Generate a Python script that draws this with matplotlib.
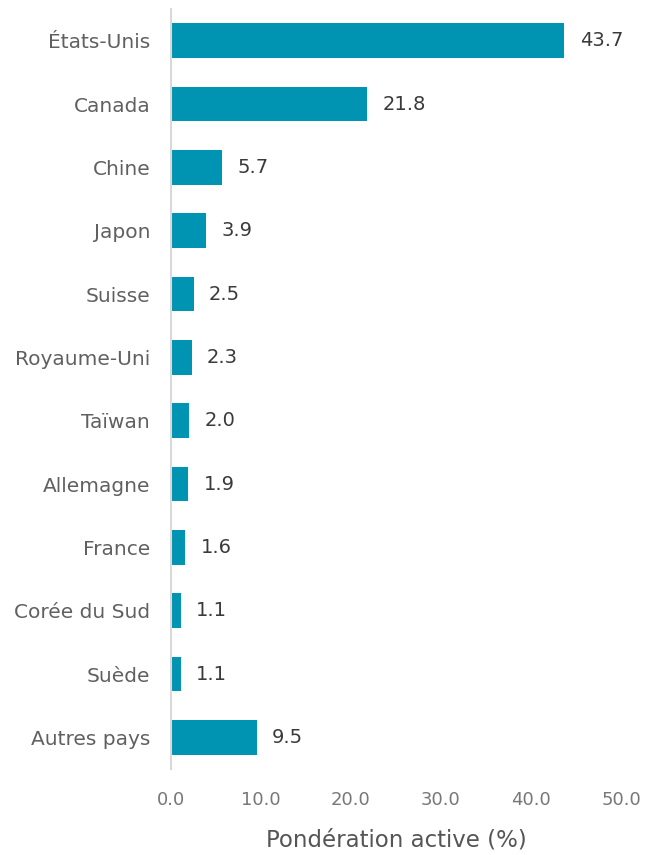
import matplotlib
matplotlib.use("Agg")
import matplotlib.pyplot as plt

categories = ["États-Unis", "Canada", "Chine", "Japon", "Suisse", "Royaume-Uni",
              "Taïwan", "Allemagne", "France", "Corée du Sud", "Suède", "Autres pays"]
values = [43.7, 21.8, 5.7, 3.9, 2.5, 2.3, 2.0, 1.9, 1.6, 1.1, 1.1, 9.5]
xticks = [0, 10, 20, 30, 40, 50]
xlabel = "Pondération active (%)"

plt.rcParams['font.family'] = ['DejaVu Sans']

fig = plt.figure(figsize=(6.57, 8.55), dpi=100)
ax = fig.add_axes([171/657, 1-769/855, 450/657, 760/855])

bar_color = "#0094B3"
y = list(range(len(categories)))
ax.barh(y, values, height=0.55, color=bar_color, zorder=2)
ax.set_ylim(len(categories)-0.5, -0.5)
ax.set_xlim(0, 50)

for yi, v in zip(y, values):
    ax.annotate(f"{v:.1f}", (v, yi), xytext=(11, 0), textcoords="offset points",
                va="center", ha="left", fontsize=14, color="#3a3a3a")

ax.set_yticks(y)
ax.set_yticklabels(categories, fontsize=14.5, color="#606060")
ax.set_xticks(xticks)
ax.set_xticklabels([f"{t:.1f}" for t in xticks], fontsize=13, color="#777777")
ax.tick_params(axis="y", length=0, pad=15)
ax.tick_params(axis="x", length=0, pad=16)
ax.set_xlabel(xlabel, fontsize=16.5, color="#555555", labelpad=14)

for s in ["top", "right", "bottom"]:
    ax.spines[s].set_visible(False)
ax.spines["left"].set_color("#d9d9d9")
ax.spines["left"].set_linewidth(1.5)

fig.savefig("out.png", dpi=100)
